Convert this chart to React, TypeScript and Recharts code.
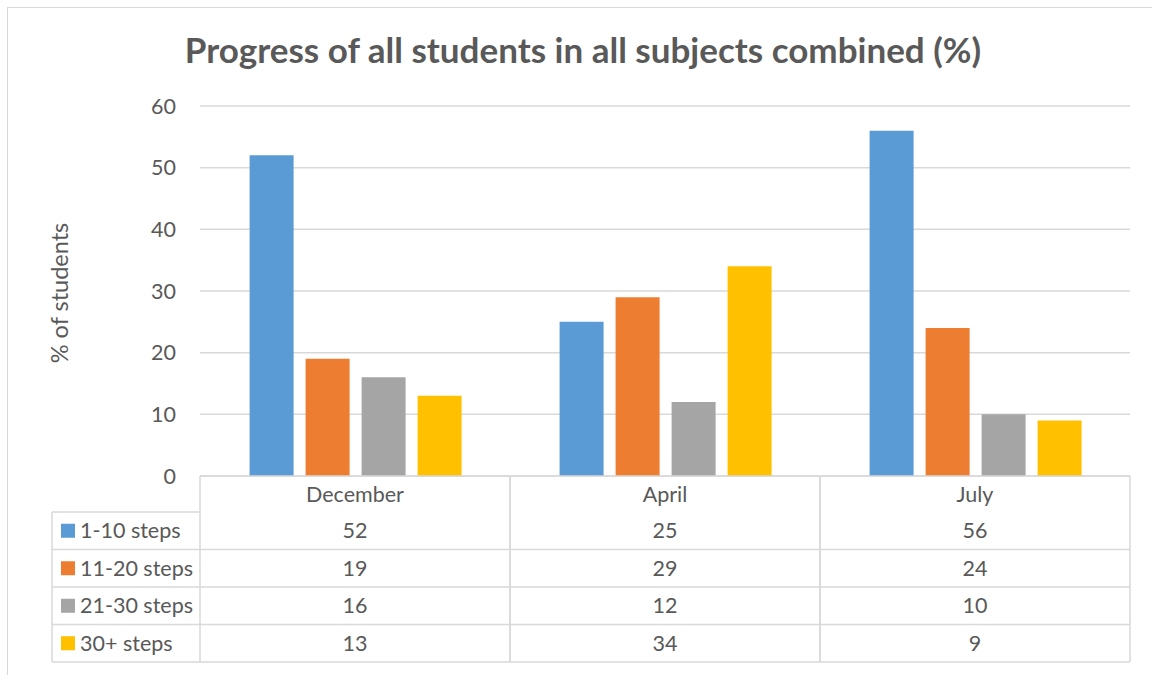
import * as React from "react"
import {
  BarChart,
  Bar,
  XAxis,
  YAxis,
  CartesianGrid,
  Label,
} from "recharts"

// ─── Data ────────────────────────────────────────────────────────────────────
const categories = ["December", "April", "July"]
const seriesNames = ["1-10 steps", "11-20 steps", "21-30 steps", "30+ steps"]
const steps1to10 = [52, 25, 56]
const steps11to20 = [19, 29, 24]
const steps21to30 = [16, 12, 10]
const steps30plus = [13, 34, 9]
const yTicks = [0, 10, 20, 30, 40, 50, 60]

const seriesValues = [steps1to10, steps11to20, steps21to30, steps30plus]
const seriesKeys = ["s1", "s2", "s3", "s4"]

// ─── Colors / layout ─────────────────────────────────────────────────────────
const COLORS = ["#5b9bd5", "#ed7d31", "#a5a5a5", "#ffc000"]
const TEXT = "#595959"
const GRID = "#d9d9d9"
const FONT = "Lato, 'Open Sans', sans-serif"
const FS = 21.5

const W = 1152
const H = 675
const PLOT_LEFT = 200
const PLOT_RIGHT = 1130
const PLOT_TOP = 106
const PLOT_BOTTOM = 476
const TABLE_BOTTOM = 662
const Y_AXIS_W = 60
const HEADER_H = 36
const ROW_H = (TABLE_BOTTOM - PLOT_BOTTOM - HEADER_H) / seriesNames.length
const BAND = (PLOT_RIGHT - PLOT_LEFT) / categories.length
const LEGEND_LEFT = 52

const data = categories.map((c, i) => {
  const row: Record<string, string | number> = { name: c }
  seriesKeys.forEach((k, s) => {
    row[k] = seriesValues[s][i]
  })
  return row
})

// ─── Data table drawn as x-axis ticks ────────────────────────────────────────
function TableColumn(props: any) {
  const { x, y, payload } = props
  const idx = categories.indexOf(payload.value)
  const half = BAND / 2
  const left = x - half
  const right = x + half
  const bottom = y + HEADER_H + ROW_H * seriesNames.length

  return (
    <g>
      {/* column borders */}
      <line x1={left} y1={y} x2={right} y2={y} stroke={GRID} strokeWidth={1.5} />
      <line x1={left} y1={y} x2={left} y2={bottom} stroke={GRID} strokeWidth={1.5} />
      <line x1={right} y1={y} x2={right} y2={bottom} stroke={GRID} strokeWidth={1.5} />
      {seriesNames.map((_, r) => (
        <line
          key={r}
          x1={idx === 0 ? LEGEND_LEFT : left}
          x2={right}
          y1={y + HEADER_H + ROW_H * (r + 1)}
          y2={y + HEADER_H + ROW_H * (r + 1)}
          stroke={GRID}
          strokeWidth={1.5}
        />
      ))}
      {idx === 0 && (
        <>
          <line x1={LEGEND_LEFT} y1={y + HEADER_H} x2={left} y2={y + HEADER_H} stroke={GRID} strokeWidth={1.5} />
          <line x1={LEGEND_LEFT} y1={y + HEADER_H} x2={LEGEND_LEFT} y2={bottom} stroke={GRID} strokeWidth={1.5} />
          {seriesNames.map((n, r) => {
            const cy = y + HEADER_H + ROW_H * (r + 0.5)
            return (
              <g key={n}>
                <rect x={LEGEND_LEFT + 9} y={cy - 7} width={14} height={14} fill={COLORS[r]} />
                <text x={LEGEND_LEFT + 28} y={cy} dy="0.36em" fontSize={FS} fill={TEXT} fontFamily={FONT}>
                  {n}
                </text>
              </g>
            )
          })}
        </>
      )}
      {/* header */}
      <text x={x} y={y + HEADER_H / 2} dy="0.36em" textAnchor="middle" fontSize={FS} fill={TEXT} fontFamily={FONT}>
        {payload.value}
      </text>
      {/* values */}
      {seriesValues.map((vals, r) => (
        <text
          key={r}
          x={x}
          y={y + HEADER_H + ROW_H * (r + 0.5)}
          dy="0.36em"
          textAnchor="middle"
          fontSize={FS}
          fill={TEXT}
          fontFamily={FONT}
        >
          {vals[idx]}
        </text>
      ))}
    </g>
  )
}

function YTitle(props: any) {
  const vb = props.viewBox || {}
  const cx = (vb.x ?? PLOT_LEFT - Y_AXIS_W) - 80
  const cy = (vb.y ?? PLOT_TOP) + (vb.height ?? 0) / 2 + 2
  return (
    <text
      x={cx}
      y={cy}
      transform={`rotate(-90, ${cx}, ${cy})`}
      textAnchor="middle"
      dy="0.36em"
      fontSize={23.5}
      fill={TEXT}
      fontFamily={FONT}
    >
      % of students
    </text>
  )
}

// ─── Component ───────────────────────────────────────────────────────────────
export default function App() {
  return (
    <div
      style={{
        position: "absolute",
        left: 0,
        top: 0,
        width: W,
        height: H,
        overflow: "hidden",
        background: "#fff",
        fontFamily: FONT,
      }}
    >
      {/* chart frame */}
      <div
        style={{
          position: "absolute",
          left: 7,
          top: 7,
          width: W + 20,
          height: H + 20,
          border: `1.5px solid ${GRID}`,
        }}
      />
      {/* title */}
      <div
        style={{
          position: "absolute",
          left: 0,
          top: 28,
          width: 1166,
          textAlign: "center",
          fontSize: 35,
          lineHeight: 1.2,
          fontWeight: 700,
          color: TEXT,
          whiteSpace: "nowrap",
        }}
      >
        Progress of all students in all subjects combined (%)
      </div>
      <div style={{ position: "absolute", left: 0, top: 0 }}>
        <BarChart
          width={W}
          height={H}
          data={data}
          barCategoryGap="16%"
          barGap={12}
          margin={{
            top: PLOT_TOP,
            right: W - PLOT_RIGHT,
            left: PLOT_LEFT - Y_AXIS_W,
            bottom: H - TABLE_BOTTOM,
          }}
        >
          <CartesianGrid vertical={false} stroke={GRID} strokeWidth={1.5} />
          <XAxis
            dataKey="name"
            axisLine={false}
            tickLine={false}
            tickSize={0}
            tickMargin={0}
            interval={0}
            height={TABLE_BOTTOM - PLOT_BOTTOM}
            tick={<TableColumn />}
          />
          <YAxis
            width={Y_AXIS_W}
            domain={[0, 60]}
            ticks={yTicks}
            axisLine={false}
            tickLine={false}
            tickSize={0}
            tickMargin={24}
            tick={{ fontSize: FS, fill: TEXT, fontFamily: FONT }}
          >
            <Label content={<YTitle />} />
          </YAxis>
          {seriesKeys.map((k, i) => (
            <Bar
              key={k}
              dataKey={k}
              name={seriesNames[i]}
              fill={COLORS[i]}
              isAnimationActive={false}
            />
          ))}
        </BarChart>
      </div>
    </div>
  )
}
